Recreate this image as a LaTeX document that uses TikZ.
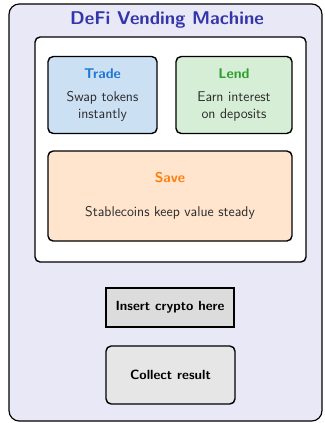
\documentclass[tikz,border=0pt]{standalone}
\usepackage{tikz}
\usetikzlibrary{positioning}
\usepackage{amsmath}
\usepackage{color}

\definecolor{machinefill}{HTML}{E8E8F6}
\definecolor{titleblue}{HTML}{3535AA}
\definecolor{tradecol}{HTML}{1F77D4}
\definecolor{tradefill}{HTML}{CCE0F4}
\definecolor{lendcol}{HTML}{2CA02C}
\definecolor{lendfill}{HTML}{D6EED6}
\definecolor{savecol}{HTML}{FF7F0E}
\definecolor{savefill}{HTML}{FFE4CE}
\definecolor{slotfill}{HTML}{DCDCDC}
\definecolor{trayfill}{HTML}{E6E6E6}
\definecolor{bodytext}{HTML}{2A2A2A}

\begin{document}
\begin{tikzpicture}[x=0.78pt,y=-0.78pt, every node/.style={font=\sffamily\fontsize{11}{13}\selectfont, text=bodytext},
  panel/.style={draw, line width=1.1pt, rounded corners=4pt, align=center, inner sep=0pt},
  btn/.style={draw, line width=1.1pt, align=center, inner sep=0pt, font=\sffamily\bfseries\fontsize{10.4}{12}\selectfont, text=black}]
\useasboundingbox (0,0) rectangle (324,423);
\node[draw, line width=0.9pt, rounded corners=8pt, fill=machinefill, minimum width=244.1pt, minimum height=325.3pt] (machine) at (165.5,212.5) {};
\node[font=\sffamily\bfseries\Large, text=titleblue] (title) at (167,20) {DeFi Vending Machine};
\node[panel, fill=white, minimum width=211.4pt, minimum height=175.5pt] (window) at (170.5,149.5) {};
\node[panel, fill=tradefill, minimum width=85pt, minimum height=60pt] (trade) at (102.5,95)
  {\textcolor{tradecol}{\textbf{Trade}}\\[5pt] Swap tokens\\ instantly};
\node[panel, fill=lendfill, minimum width=90.5pt, minimum height=60pt] (lend) at (234,95)
  {\textcolor{lendcol}{\textbf{Lend}}\\[5pt] Earn interest\\ on deposits};
\node[panel, fill=savefill, minimum width=190.3pt, minimum height=70.2pt] (save) at (170,196)
  {\textcolor{savecol}{\textbf{Save}}\\[13pt] Stablecoins keep value steady};
\node[btn, fill=slotfill, minimum width=99.8pt, minimum height=30.4pt] (slot) at (170,307.5) {Insert crypto here};
\node[btn, fill=trayfill, rounded corners=4pt, minimum width=100.6pt, minimum height=45.2pt] (tray) at (170.5,375) {Collect result};
\end{tikzpicture}
\end{document}
